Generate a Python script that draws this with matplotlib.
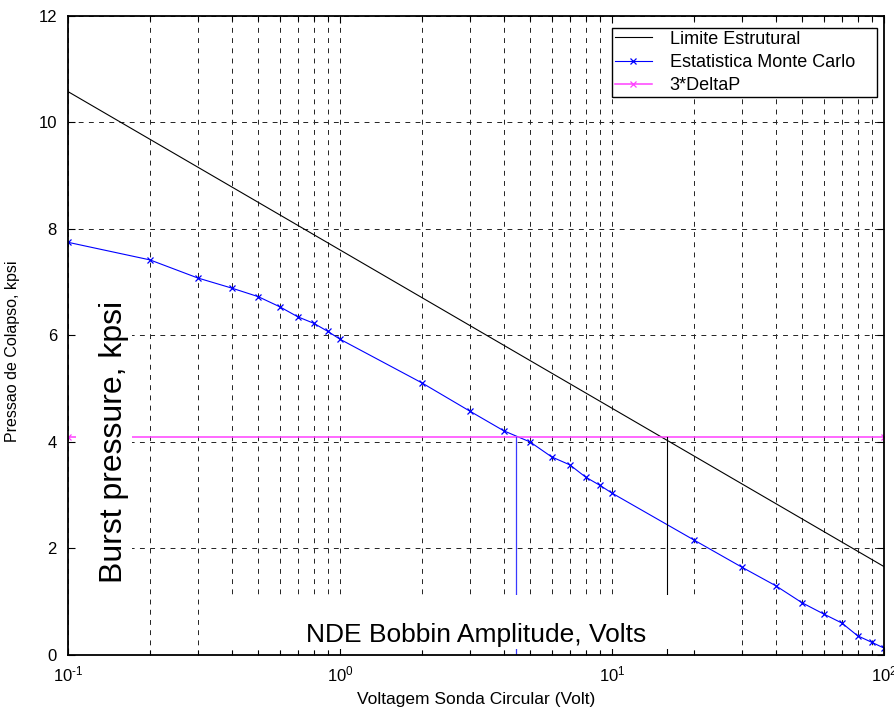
import matplotlib
matplotlib.use("Agg")
import matplotlib.pyplot as plt
from matplotlib.patches import Rectangle
from matplotlib.ticker import LogLocator, NullFormatter, FixedLocator

plt.rcParams["font.family"] = ["Liberation Sans", "DejaVu Sans"]
plt.rcParams["mathtext.fontset"] = "custom"
plt.rcParams["mathtext.rm"] = "Liberation Sans"
plt.rcParams["mathtext.it"] = "Liberation Sans:italic"

# Structural limit (straight line on the log axis)
limit_x = [0.1, 100]
limit_y = [10.58, 1.66]

# Monte Carlo burst pressure estimates
mc_x = [0.1, 0.2, 0.3, 0.4, 0.5, 0.6, 0.7, 0.8, 0.9, 1,
        2, 3, 4, 5, 6, 7, 8, 9, 10,
        20, 30, 40, 50, 60, 70, 80, 90, 100]
mc_y = [7.75, 7.42, 7.08, 6.89, 6.73, 6.54, 6.35, 6.23, 6.08, 5.93,
        5.11, 4.58, 4.21, 4.00, 3.72, 3.57, 3.34, 3.19, 3.04,
        2.16, 1.65, 1.30, 0.98, 0.77, 0.60, 0.36, 0.24, 0.13]

# 3 x DeltaP criterion
delta_x = [0.1, 100]
delta_y = [4.1, 4.1]

# amplitudes where each curve crosses 3*DeltaP
cross_mc = 4.45
cross_limit = 15.9

y_ticks = [0, 2, 4, 6, 8, 10, 12]
x_tick_vals = [0.1, 1, 10, 100]
x_tick_labels = ["$10^{\u20101}$", "$10^{0}$", "$10^{1}$", "$10^{2}$"]

fig = plt.figure(figsize=(8.95, 7.08), dpi=100)
ax = fig.add_axes([0.076, 0.0749, 0.9117, 0.9025])
ax.set_axisbelow(True)

ax.plot(limit_x, limit_y, color="black", linewidth=0.8, label="Limite Estrutural")
ax.plot(mc_x, mc_y, color="blue", linewidth=0.8, marker="x", markersize=5,
        markeredgewidth=0.9, label="Estatistica Monte Carlo")
ax.plot(delta_x, delta_y, color="#ff40ff", linewidth=1.1, marker="x", markersize=5,
        markeredgewidth=0.9, label="3*DeltaP")

ax.plot([cross_mc, cross_mc], [0, delta_y[0]], color="#3838ff", linewidth=0.9)
ax.plot([cross_limit, cross_limit], [0, delta_y[0]], color="black", linewidth=0.8)

ax.set_xscale("log")
ax.set_xlim(0.1, 100)
ax.set_ylim(0, 12)
ax.xaxis.set_major_locator(FixedLocator(x_tick_vals))
ax.set_xticklabels(x_tick_labels)
ax.xaxis.set_minor_locator(LogLocator(base=10, subs=range(2, 10), numticks=20))
ax.xaxis.set_minor_formatter(NullFormatter())
ax.set_yticks(y_ticks)

ax.grid(True, which="both", axis="x", color="#222222", linewidth=0.7,
        linestyle=(0, (5, 5.5)))
ax.grid(True, which="major", axis="y", color="#222222", linewidth=0.7,
        linestyle=(0, (5, 5.5)))

ax.tick_params(which="both", direction="in", top=True, right=True,
               labelsize=12, colors="black", width=0.8)
ax.tick_params(which="major", length=5)
ax.tick_params(which="minor", length=3.5)
ax.tick_params(axis="x", pad=7)
ax.tick_params(axis="y", pad=8)
for s in ax.spines.values():
    s.set_linewidth(1.3)

ax.set_xlabel("Voltagem Sonda Circular (Volt)", fontsize=12.5, labelpad=5)
ax.set_ylabel("Pressao de Colapso, kpsi", fontsize=11.5)
ax.yaxis.set_label_coords(-0.059, 0.476)

# white panels behind the annotations
ax.add_patch(Rectangle((0.01, 0.102), 0.069, 0.466, transform=ax.transAxes,
                       facecolor="white", edgecolor="none", zorder=3))
ax.add_patch(Rectangle((0.18, 0.009), 0.62, 0.085, transform=ax.transAxes,
                       facecolor="white", edgecolor="none", zorder=3))
ax.text(0.056, 0.333, "Burst pressure, kpsi", transform=ax.transAxes,
        rotation=90, ha="center", va="center", fontsize=23, zorder=4)
ax.text(0.5, 0.031, "NDE Bobbin Amplitude, Volts", transform=ax.transAxes,
        ha="center", va="center", fontsize=19, zorder=4)

leg = ax.legend(loc="upper left", bbox_to_anchor=(0.6667, 0.5, 0.3247, 0.4815),
                mode="expand", borderaxespad=0, fontsize=13, fancybox=False,
                framealpha=1, edgecolor="black", handlelength=2.05,
                handletextpad=1.0, borderpad=0.15, labelspacing=0.35)
leg.get_frame().set_linewidth(1.0)
leg.set_zorder(5)

fig.savefig("out.png", dpi=100)
